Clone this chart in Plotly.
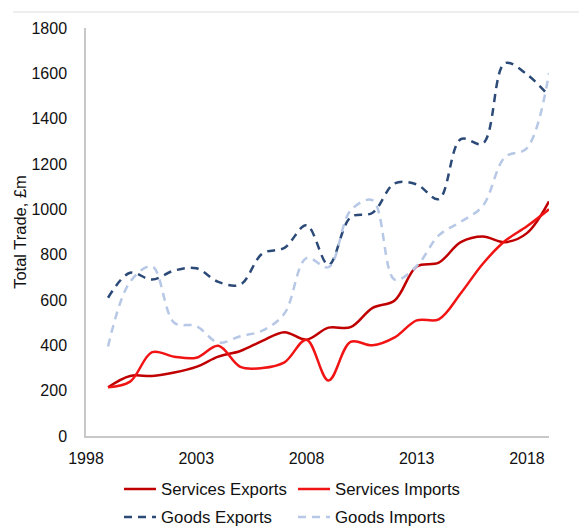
import plotly.graph_objects as go

years = list(range(1999, 2020))

services_exports = [215, 265, 265, 280, 305, 350, 375, 420, 458, 425, 478, 480,
                    565, 598, 748, 765, 855, 880, 855, 895, 1035]
services_imports = [215, 240, 370, 350, 345, 398, 305, 300, 325, 425, 245, 415,
                    400, 435, 510, 515, 630, 760, 860, 925, 1000]
goods_exports = [610, 720, 690, 730, 740, 680, 668, 805, 830, 930, 755, 965,
                 985, 1115, 1110, 1045, 1310, 1290, 1645, 1595, 1500]
goods_imports = [395, 680, 748, 500, 485, 412, 440, 465, 540, 785, 745, 995,
                 1040, 690, 750, 885, 945, 1015, 1230, 1270, 1600]

x_ticks = [1998, 2003, 2008, 2013, 2018]
y_ticks = [0, 200, 400, 600, 800, 1000, 1200, 1400, 1600, 1800]

# (name, values, colour, dash, legend row)
series = [
    ("Services Exports", services_exports, "#C00000", "solid", "legend"),
    ("Services Imports", services_imports, "#F01414", "solid", "legend"),
    ("Goods Exports", goods_exports, "#2C4A78", "8px,6px", "legend2"),
    ("Goods Imports", goods_imports, "#B7C8E6", "8px,6px", "legend2"),
]

fig = go.Figure()
for name, vals, color, dash, leg in series:
    fig.add_trace(go.Scatter(
        x=years, y=vals, name=name, mode="lines", legend=leg,
        line=dict(color=color, width=2.5, dash=dash, shape="spline", smoothing=1),
    ))

font_family = "Liberation Sans, Arial, sans-serif"
W, H = 579, 527

legend_common = dict(
    orientation="h", xref="container", yref="container",
    xanchor="left", yanchor="middle",
    entrywidth=127, entrywidthmode="pixels",
    font=dict(size=16.8, color="#111111", family=font_family),
    traceorder="normal", itemwidth=32, bgcolor="rgba(0,0,0,0)",
)

fig.update_layout(
    width=W, height=H,
    margin=dict(l=86, r=30, t=28, b=91, autoexpand=False),
    paper_bgcolor="white", plot_bgcolor="white",
    font=dict(family=font_family, size=16, color="#111111"),
    showlegend=True,
    legend=dict(legend_common, x=119 / W, y=1 - 489 / H),
    legend2=dict(legend_common, x=119 / W, y=1 - 517 / H),
    xaxis=dict(
        range=[1998, 2019], tickmode="array", tickvals=x_ticks,
        showgrid=False, zeroline=False, showline=True, linecolor="#C8C8C8",
        linewidth=1.5, ticks="", tickfont=dict(size=16), ticklabelstandoff=7,
        automargin=False,
    ),
    yaxis=dict(
        range=[0, 1800], tickmode="array", tickvals=y_ticks,
        showgrid=False, zeroline=False, showline=True, linecolor="#C8C8C8",
        linewidth=1.5, ticks="", tickfont=dict(size=16), ticklabelstandoff=14,
        title=dict(text="Total Trade, £m", font=dict(size=16.5), standoff=1),
        automargin=False,
    ),
    shapes=[dict(
        type="line", xref="paper", yref="paper",
        x0=-73 / 463, x1=1.07, y0=1 + 16 / 408, y1=1 + 16 / 408,
        line=dict(color="#DDDDDD", width=1),
    )],
)

fig.write_html("out.html")
